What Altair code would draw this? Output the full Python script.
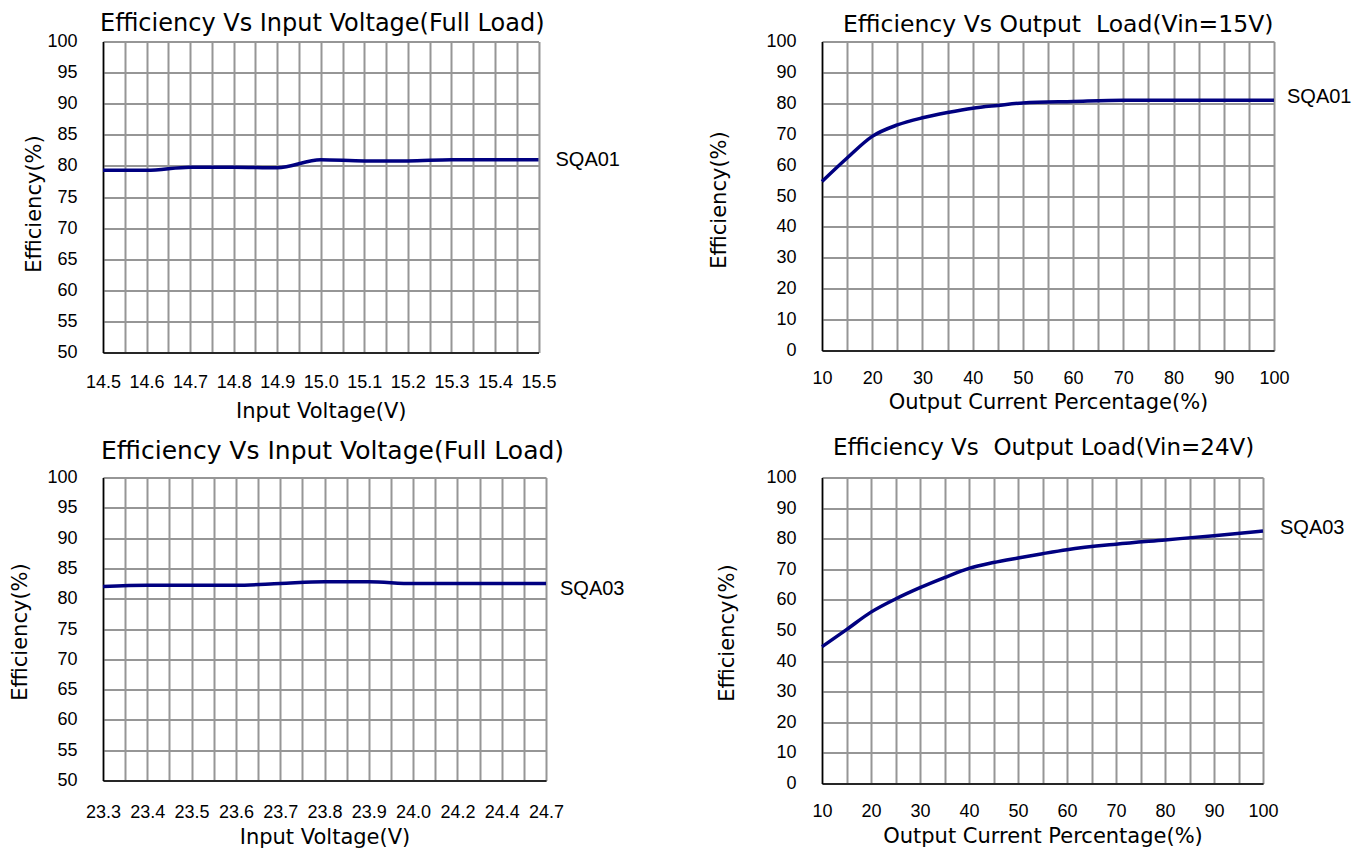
import altair as alt
import pandas as pd

FONT_TXT = "DejaVu Sans"
FONT_NUM = "Liberation Sans"
NAVY = "#000080"
GRID = "#969696"

# ---- Panel A : Efficiency vs Input Voltage (Full Load), SQA01
a_labels = ["14.5", "14.6", "14.7", "14.8", "14.9", "15.0", "15.1", "15.2", "15.3", "15.4", "15.5"]
a_eff = [79.3, 79.3, 79.8, 79.8, 79.7, 81.0, 80.8, 80.8, 81.0, 81.0, 81.0]

# ---- Panel B : Efficiency vs Output Load (Vin=15V), SQA01
b_load = [10, 15, 20, 25, 30, 35, 40, 45, 50, 60, 70, 80, 90, 100]
b_eff = [54.7, 62.3, 69.3, 73.0, 75.3, 77.0, 78.4, 79.3, 80.1, 80.6, 81.0, 81.0, 81.0, 81.0]

# ---- Panel C : Efficiency vs Input Voltage (Full Load), SQA03
c_labels = ["23.3", "23.4", "23.5", "23.6", "23.7", "23.8", "23.9", "24.0", "24.2", "24.4", "24.7"]
c_eff = [82.0, 82.2, 82.2, 82.2, 82.5, 82.8, 82.8, 82.5, 82.5, 82.5, 82.5]

# ---- Panel D : Efficiency vs Output Load (Vin=24V), SQA03
d_load = [10, 15, 20, 25, 30, 35, 40, 45, 50, 55, 60, 70, 80, 90, 100]
d_eff = [44.7, 50.3, 56.0, 60.3, 64.0, 67.3, 70.3, 72.2, 73.7, 75.1, 76.4, 78.2, 79.6, 81.0, 82.5]

y_vals_a = list(range(50, 101, 5))
y_vals_b = list(range(0, 101, 10))
x_grid_idx = [i / 2 for i in range(0, 21)]
x_grid_load = list(range(10, 101, 5))


def idx_label_expr(labels):
    arr = "[" + ",".join("'" + s + "'" for s in labels) + "]"
    return "datum.value % 1 == 0 ? " + arr + "[round(datum.value)] : ''"


def panel(df, xdomain, xvals, label_expr, ydomain, yvals, title, title_dx, title_offset, title_size,
          xtitle, x_labelpad, x_titlepad, ytitle_x, ytitle_y, w, h, tag, tag_dx, tag_dy):
    xscale = alt.Scale(domain=xdomain, nice=False, zero=False)
    yscale = alt.Scale(domain=ydomain, nice=False, zero=False)
    common = dict(grid=True, gridColor=GRID, gridWidth=2, gridOpacity=1,
                  domainColor="black", domainWidth=1.5, ticks=False, tickSize=0,
                  labelFont=FONT_NUM, labelFontSize=18, labelColor="black",
                  titleFont=FONT_TXT, titleFontSize=21, titleFontWeight="normal",
                  titleColor="black", labelFlush=False, labelOverlap=False)
    xaxis = alt.Axis(values=xvals, labelExpr=label_expr, title=xtitle,
                     labelPadding=x_labelpad, titlePadding=x_titlepad, **common)
    yaxis = alt.Axis(values=yvals, title="Efficiency(%)", labelPadding=26,
                     titleX=ytitle_x, titleY=ytitle_y, titleAngle=270,
                     titleAlign="center", titleBaseline="middle", **common)
    xenc = alt.X("x:Q", scale=xscale, axis=xaxis)
    yenc = alt.Y("eff:Q", scale=yscale, axis=yaxis)
    line = alt.Chart(df).mark_line(color=NAVY, strokeWidth=3.5, interpolate="monotone").encode(
        x=xenc, y=yenc)
    tag_layer = alt.Chart(df.tail(1)).mark_text(
        text=tag, align="left", baseline="middle", dx=tag_dx, dy=tag_dy,
        font=FONT_NUM, fontSize=20, color="black"
    ).encode(x=xenc, y=yenc)
    return alt.layer(line, tag_layer).properties(
        width=w, height=h,
        title=alt.TitleParams(text=title, anchor="start", frame="group", dx=title_dx,
                              offset=title_offset, baseline="alphabetic", font=FONT_TXT,
                              fontSize=title_size, fontWeight="normal", color="black"),
    )


df_a = pd.DataFrame({"x": list(range(len(a_labels))), "eff": a_eff})
df_b = pd.DataFrame({"x": b_load, "eff": b_eff})
df_c = pd.DataFrame({"x": list(range(len(c_labels))), "eff": c_eff})
df_d = pd.DataFrame({"x": d_load, "eff": d_eff})

load_expr = "datum.value % 10 == 0 ? datum.label : ''"

pa = panel(df_a, [0, 10], x_grid_idx, idx_label_expr(a_labels), [50, 100], y_vals_a,
           "Efficiency Vs Input Voltage(Full Load)", -3, -22.5, 24, "Input Voltage(V)", 21, 9,
           -69, 162, 435.5, 311, "SQA01", 17, 0)
pb = panel(df_b, [10, 100], x_grid_load, load_expr, [0, 100], y_vals_b,
           "Efficiency Vs Output\u00a0 Load(Vin=15V)", 21, -22.5, 23.5, "Output Current Percentage(%)", 19, 4,
           -103, 158, 452, 309, "SQA01", 13, -3)
pc = panel(df_c, [0, 10], x_grid_idx, idx_label_expr(c_labels), [50, 100], y_vals_a,
           "Efficiency Vs Input Voltage(Full Load)", -2, -15.2, 25, "Input Voltage(V)", 23, 5,
           -83, 154, 443, 303, "SQA03", 14, 5)
pd_ = panel(df_d, [10, 100], x_grid_load, load_expr, [0, 100], y_vals_b,
            "Efficiency Vs\u00a0 Output Load(Vin=24V)", 11, -9.5, 23, "Output Current Percentage(%)", 19, 5,
            -95, 155, 441, 306, "SQA03", 17, -3.5)

chart = alt.concat(pa, pb, pc, pd_, columns=2, spacing={"row": 125, "column": 276},
                   bounds="flush").properties(
    padding={"left": 0, "top": 3.5, "right": 0, "bottom": 0}
).configure_view(stroke=None).configure(background="white")

chart.save("out.html", embed_options={"renderer": "svg", "actions": False})
